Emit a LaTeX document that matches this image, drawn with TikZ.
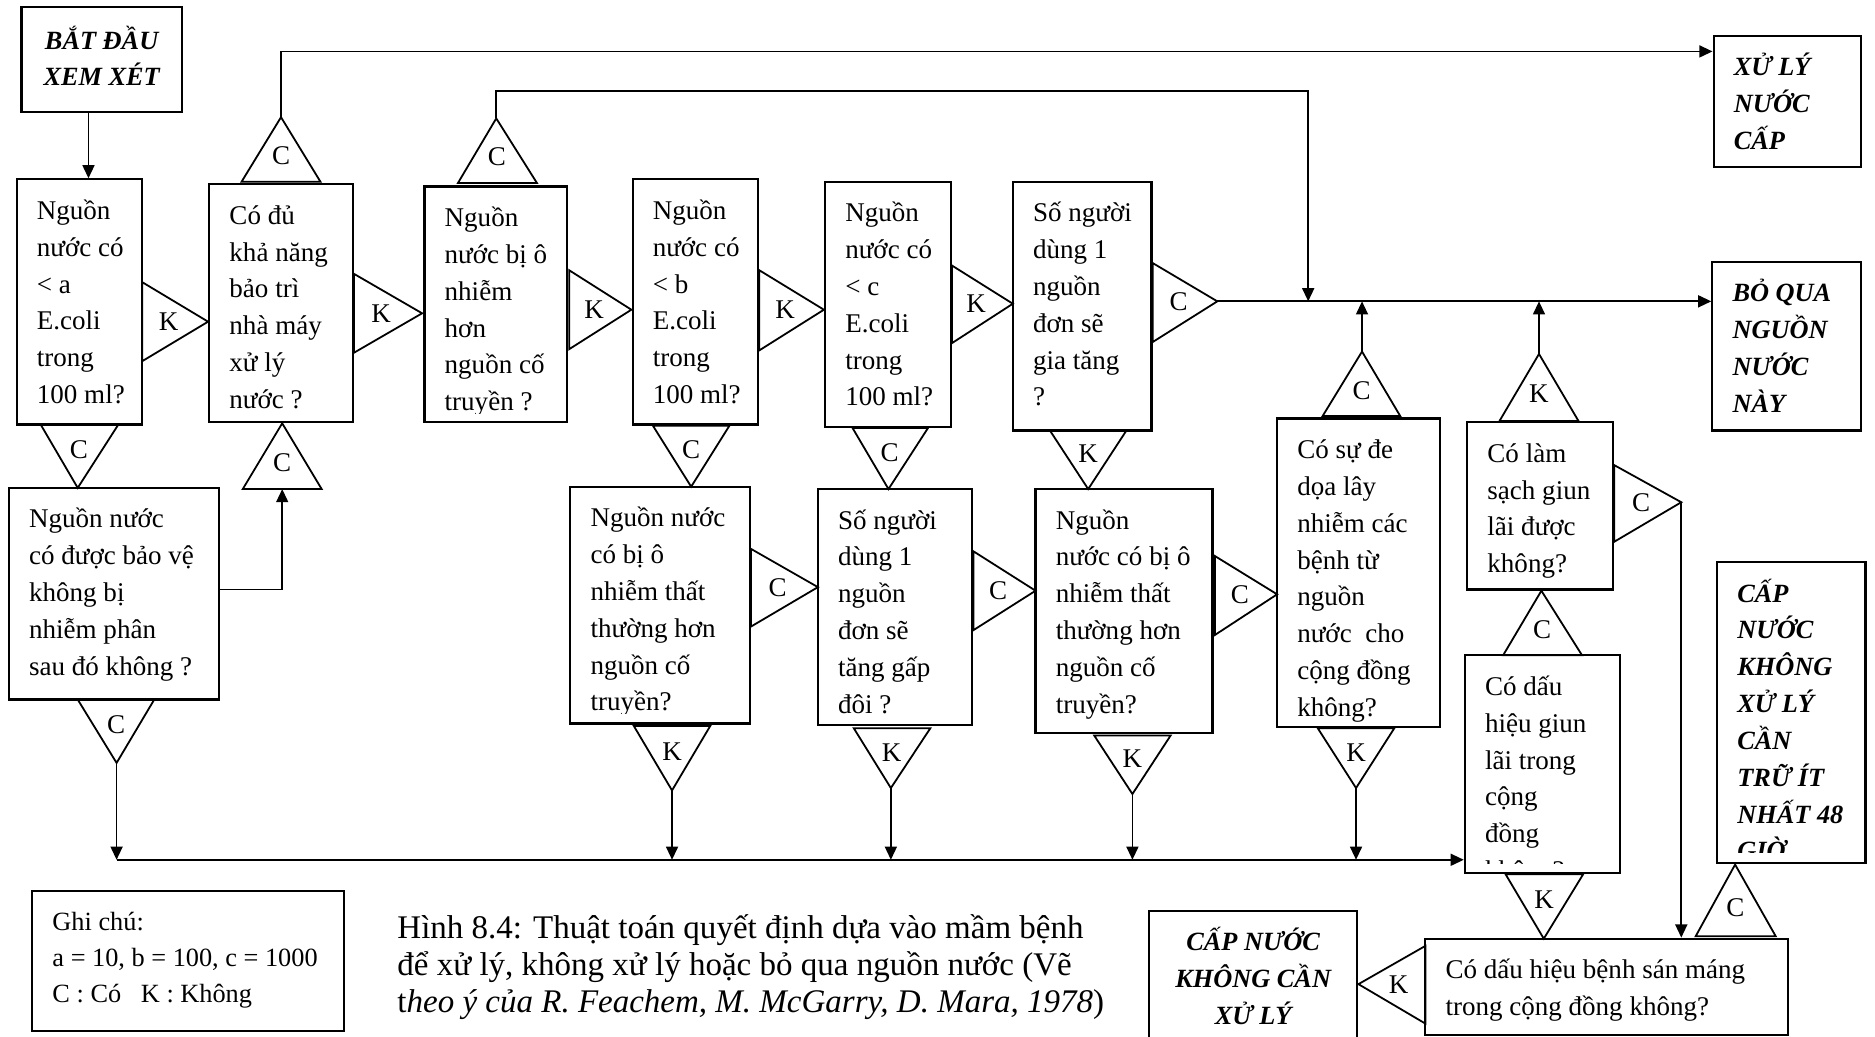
\documentclass[tikz,border=0pt]{standalone}
\usepackage{fontspec}
\setmainfont{Liberation Serif}
\usetikzlibrary{arrows.meta,calc,fit}

\tikzset{
  box/.style={draw, line width=0.9pt, inner sep=0pt},
  txt/.style={inner sep=0pt, font=\fontsize{11.3}{15.4}\selectfont},
  legtxt/.style={inner sep=0pt, font=\fontsize{11}{15}\selectfont},
  term/.style={inner sep=0pt, font=\fontsize{11}{15.4}\selectfont\bfseries\itshape},
  captxt/.style={inner sep=0pt, font=\fontsize{13.8}{15.5}\selectfont},
  tri/.style={draw, line width=0.75pt, line join=miter},
  lbl/.style={inner sep=0pt, font=\fontsize{11.3}{13}\selectfont},
  link/.style={line width=0.75pt},
  arr/.style={link, -{Triangle[length=5.5pt,width=5pt]}},
}

% question box: name, x1, y1, x2, y2, clip bottom, text style, lines
\newcommand{\qbox}[8]{%
  \node[box, fit={(#2,#3) (#4,#5)}] (#1) {};
  \begin{scope}
    \clip (#2,#3) rectangle (#4,#6);
    \node[#7, anchor=base west] (#1-t) at (#2+16.5, #3+33.5)
      {\parbox[t]{8cm}{\raggedright #8}};
  \end{scope}}

% label triangle: name, base end 1, base end 2, apex, letter
\newcommand{\tri}[5]{%
  \coordinate (#1-b1) at #2;
  \coordinate (#1-b2) at #3;
  \coordinate (#1-a) at #4;
  \coordinate (#1-m) at ($(#1-b1)!0.5!(#1-b2)$);
  \draw[tri] (#1-b1) -- (#1-a) -- (#1-b2) -- cycle;
  \node[lbl] (#1) at ($(#1-m)!0.4!(#1-a)$) {#5};}

\begin{document}
\begin{tikzpicture}[x=0.5pt, y=-0.5pt]
\clip (0,0) rectangle (1568,867);
\fill[white] (0,0) rectangle (1568,867);

% reference levels of the long connectors
\coordinate (ytop)  at (0,43);
\coordinate (ysec)  at (0,76);
\coordinate (ymain) at (0,252);
\coordinate (ybot)  at (0,719);
\coordinate (yb7)   at (0,493);
\coordinate (xs)    at (74,0);
\coordinate (xj)    at (1094,0);

% start box
\node[box, fit={(18,6) (152,94)}] (start) {};
\node[term, anchor=base] (start-t) at (85,41)
  {\parbox[t]{120pt}{\centering BẮT ĐẦU\\XEM XÉT}};

% first row of questions
\qbox{b1}{14}{150}{119}{355}{355}{txt}{Nguồn\\nước có\\< a\\E.coli\\trong\\100 ml?}
\qbox{b2}{175}{154}{295}{353}{353}{txt}{Có đủ\\khả năng\\bảo trì\\nhà máy\\xử lý\\nước ?}
\qbox{b3}{355}{156}{474}{353}{346}{txt}{Nguồn\\nước bị ô\\nhiễm\\hơn\\nguồn cố\\truyền ?}
\qbox{b4}{529}{150}{634}{355}{355}{txt}{Nguồn\\nước có\\< b\\E.coli\\trong\\100 ml?}
\qbox{b5}{690}{152}{795}{357}{357}{txt}{Nguồn\\nước có\\< c\\E.coli\\trong\\100 ml?}
\qbox{b6}{847}{152}{963}{360}{360}{txt}{Số người\\dùng 1\\nguồn\\đơn sẽ\\gia tăng\\?}

% second row of questions
\qbox{b7}{7.5}{408}{183}{585}{585}{txt}{Nguồn nước\\có được bảo vệ\\không bị\\nhiễm phân\\sau đó không ?}
\qbox{b8}{477}{407}{627}{605}{597}{txt}{Nguồn nước\\có bị ô\\nhiễm thất\\thường hơn\\nguồn cố\\truyền?}
\qbox{b9}{684}{409}{813}{606}{606}{txt}{Số người\\dùng 1\\nguồn\\đơn sẽ\\tăng gấp\\đôi ?}
\qbox{b10}{866}{409}{1014}{613}{613}{txt}{Nguồn\\nước có bị ô\\nhiễm thất\\thường hơn\\nguồn cố\\truyền?}
\qbox{b11}{1068}{350}{1204}{608}{608}{txt}{Có sự đe\\dọa lây\\nhiễm các\\bệnh từ\\nguồn\\nước\ \ cho\\cộng đồng\\không?}
\qbox{b12}{1227}{353}{1349}{493}{493}{txt}{Có làm\\sạch giun\\lãi được\\không?}
\qbox{b13}{1225}{548}{1355}{730}{722}{txt}{Có dấu\\hiệu giun\\lãi trong\\cộng\\đồng\\không?}
\qbox{b14}{1192}{785}{1495}{865.5}{865.5}{txt}{Có dấu hiệu bệnh sán máng\\trong cộng đồng không?}

% outcomes
\qbox{xuly}{1433}{30}{1556}{140}{140}{term}{XỬ LÝ\\NƯỚC\\CẤP}
\qbox{bq}{1432}{219}{1556}{360}{360}{term}{BỎ QUA\\NGUỒN\\NƯỚC\\NÀY}
\qbox{ctr}{1436}{470}{1560}{722}{713}{term}{CẤP\\NƯỚC\\KHÔNG\\XỬ LÝ\\CẦN\\TRỮ ÍT\\NHẤT 48\\GIỜ}
\node[box, fit={(961,762) (1135,870)}] (cnk) {};
\node[term, anchor=base] (cnk-t) at (1048,795)
  {\parbox[t]{120pt}{\centering CẤP NƯỚC\\KHÔNG CẦN\\XỬ LÝ}};

% legend and caption
\qbox{legend}{27}{745}{288}{862}{862}{legtxt}{Ghi chú:\\a = 10, b = 100, c = 1000\\C : Có \ \ K : Không}
\node[captxt, anchor=base west] (caption) at (332,785)
  {\parbox[t]{12cm}{\raggedright Hình 8.4: Thuật toán quyết định dựa vào mầm bệnh\\để xử lý, không xử lý hoặc bỏ qua nguồn nước (Vẽ\\t\textit{heo ý của R. Feachem, M. McGarry, D. Mara, 1978})}};

% label triangles
\tri{tK1}{(119,236)}{(119,302)}{(174,269)}{K}
\tri{tK2}{(296,229)}{(296,295)}{(353,262)}{K}
\tri{tK3}{(476,226)}{(476,292)}{(528,259)}{K}
\tri{tK4}{(635,226)}{(635,293)}{(689,259)}{K}
\tri{tK5}{(796,222)}{(796,287)}{(847,254)}{K}
\tri{tC6}{(964,220)}{(964,286)}{(1018,252)}{C}
\tri{tC2}{(202,152)}{(268,152)}{(235,98)}{C}
\tri{tC3}{(383,153)}{(449,153)}{(415,99)}{C}
\tri{tC1}{(34,355)}{(99,355)}{(65,408)}{C}
\tri{tC7u}{(203,409)}{(269,409)}{(236,354)}{C}
\tri{tC7d}{(65,585)}{(129,585)}{(97.5,638)}{C}
\tri{tC4}{(546,356)}{(610,356)}{(578,407)}{C}
\tri{tC5}{(713,358)}{(776,358)}{(743,409)}{C}
\tri{tK6}{(878,360)}{(942,360)}{(910,409)}{K}
\tri{tC8}{(628,459)}{(628,524)}{(684,491)}{C}
\tri{tC9}{(814,461)}{(814,527)}{(866,494)}{C}
\tri{tC10}{(1016,465)}{(1016,531)}{(1068,497)}{C}
\tri{tK8}{(530,607)}{(594,607)}{(562,661)}{K}
\tri{tK9}{(714,609)}{(778,609)}{(745,659)}{K}
\tri{tK10}{(915,615)}{(979,615)}{(947,664)}{K}
\tri{tK11}{(1102,609)}{(1166,609)}{(1134,659)}{K}
\tri{tC11}{(1106,348)}{(1171,348)}{(1139,294)}{C}
\tri{tK12}{(1254,352)}{(1320,352)}{(1287,296)}{K}
\tri{tC12}{(1350,389)}{(1350,453)}{(1406,420)}{C}
\tri{tC13}{(1257,548)}{(1323,548)}{(1289,494)}{C}
\tri{tK13}{(1259,731)}{(1324,731)}{(1291,785)}{K}
\tri{tC14}{(1418,783)}{(1485,783)}{(1451,723)}{C}
\tri{tK14}{(1192,791)}{(1192,856)}{(1136,823)}{K}

% connectors
\draw[arr] (start.south -| xs) -- (b1.north -| xs);
\draw[arr] (tC2-a) |- (xuly.west |- ytop);
\draw[arr] (tC3-a) |- (xj |- ysec) -- (xj |- ymain);
\draw[arr] (tC6-a) -- (bq.west |- ymain);
\draw[arr] (tC11-a) -- (tC11-a |- ymain);
\draw[arr] (tK12-a) -- (tK12-a |- ymain);
\draw[arr] (tC12-a) -- (tC12-a |- b14.north);
\draw[arr] (b7.east |- yb7) -| (tC7u-m);
\draw[arr] (tC7d-a) -- (tC7d-a |- ybot);
\draw[arr] (tC7d-a |- ybot) -- (b13.west |- ybot);
\draw[arr] (tK8-a) -- (tK8-a |- ybot);
\draw[arr] (tK9-a) -- (tK9-a |- ybot);
\draw[arr] (tK10-a) -- (tK10-a |- ybot);
\draw[arr] (tK11-a) -- (tK11-a |- ybot);
\end{tikzpicture}
\end{document}
